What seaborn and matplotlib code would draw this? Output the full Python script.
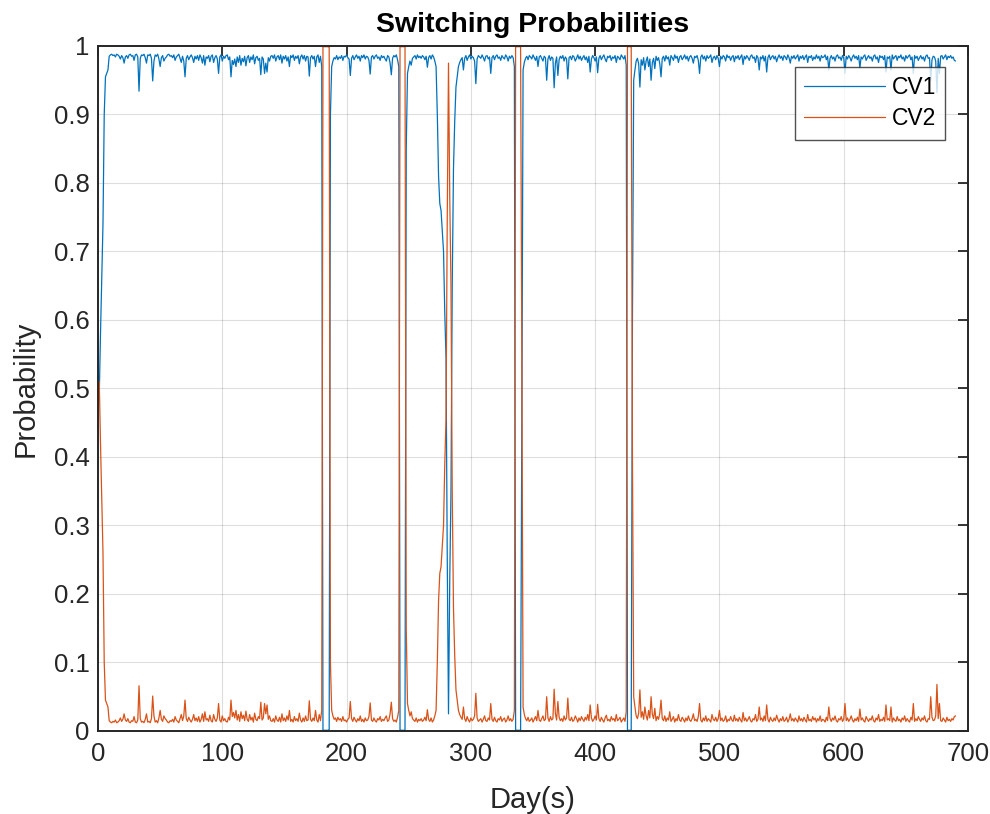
import numpy as np
import pandas as pd
import matplotlib
matplotlib.use('Agg')
import matplotlib.pyplot as plt
import seaborn as sns

# Switching probabilities, one value per day, in thousandths
# start-up (days 1-10)
cv1_start = [490, 580, 660, 740, 900, 955, 960, 965, 985, 987]
cv2_start = [510, 420, 340, 260, 100, 45, 40, 35, 15, 13]

# regime 1, days 11-180
cv1_a = [988, 986, 987, 984, 988, 987, 985, 981, 986, 983,
         975, 984, 986, 982, 987, 988, 985, 986, 979, 987,
         988, 984, 934, 982, 987, 986, 988, 983, 975, 987,
         986, 988, 982, 949, 978, 987, 985, 988, 981, 970,
         983, 986, 978, 982, 984, 987, 988, 985, 986, 983,
         987, 979, 984, 986, 988, 982, 976, 985, 978, 955,
         982, 986, 980, 984, 987, 983, 976, 985, 981, 986,
         979, 987, 983, 975, 986, 972, 984, 982, 986, 977,
         985, 987, 976, 983, 986, 981, 960, 984, 987, 978,
         985, 982, 986, 987, 980, 984, 955, 979, 973, 981,
         970, 984, 976, 986, 972, 982, 977, 985, 971, 983,
         986, 976, 984, 980, 987, 974, 983, 985, 979, 982,
         958, 984, 981, 960, 975, 962, 983, 978, 985, 986,
         982, 987, 978, 984, 986, 980, 987, 975, 985, 981,
         986, 978, 984, 970, 986, 983, 987, 979, 985, 982,
         986, 974, 984, 987, 981, 986, 978, 985, 984, 956,
         983, 986, 981, 985, 970, 984, 987, 976, 985, 970]
cv2_a = [12, 14, 13, 16, 12, 13, 15, 19, 14, 17,
         25, 16, 14, 18, 13, 12, 15, 14, 21, 13,
         12, 16, 66, 18, 13, 14, 12, 17, 25, 13,
         14, 12, 18, 51, 22, 13, 15, 12, 19, 30,
         17, 14, 22, 18, 16, 13, 12, 15, 14, 17,
         13, 21, 16, 14, 12, 18, 24, 15, 22, 45,
         18, 14, 20, 16, 13, 17, 24, 15, 19, 14,
         21, 13, 17, 25, 14, 28, 16, 18, 14, 23,
         15, 13, 24, 17, 14, 19, 40, 16, 13, 22,
         15, 18, 14, 13, 20, 16, 45, 21, 27, 19,
         30, 16, 24, 14, 28, 18, 23, 15, 29, 17,
         14, 24, 16, 20, 13, 26, 17, 15, 21, 18,
         42, 16, 19, 40, 25, 38, 17, 22, 15, 14,
         18, 13, 22, 16, 14, 20, 13, 25, 15, 19,
         14, 22, 16, 30, 14, 17, 13, 21, 15, 18,
         14, 26, 16, 13, 19, 14, 22, 15, 16, 44,
         17, 14, 19, 15, 30, 16, 13, 24, 15, 30]

# switch 1, days 181-188
cv1_sw1 = [1, 1, 1, 1, 1, 2, 900, 970]
cv2_sw1 = [999, 999, 999, 999, 999, 998, 100, 30]

# regime 1, days 189-242
cv1_b = [978, 983, 981, 986, 980, 984, 982, 986, 979, 985,
         984, 987, 983, 981, 957, 982, 986, 980, 984, 987,
         982, 985, 978, 986, 983, 987, 981, 985, 984, 979,
         959, 984, 986, 981, 985, 987, 982, 984, 979, 986,
         983, 985, 981, 978, 986, 984, 975, 958, 982, 986,
         984, 987, 980, 970]
cv2_b = [22, 17, 19, 14, 20, 16, 18, 14, 21, 15,
         16, 13, 17, 19, 43, 18, 14, 20, 16, 13,
         18, 15, 22, 14, 17, 13, 19, 15, 16, 21,
         41, 16, 14, 19, 15, 13, 18, 16, 21, 14,
         17, 15, 19, 22, 14, 16, 25, 42, 18, 14,
         16, 13, 20, 30]

# switch 2, days 243-249
cv1_sw2 = [1, 1, 1, 1, 1, 850, 960]
cv2_sw2 = [999, 999, 999, 999, 999, 150, 40]

# regime 1, days 250-272
cv1_c = [970, 978, 972, 982, 984, 986, 981, 987, 983, 985,
         982, 986, 984, 980, 985, 969, 983, 986, 981, 987,
         984, 978, 970]
cv2_c = [30, 22, 28, 18, 16, 14, 19, 13, 17, 15,
         18, 14, 16, 20, 15, 31, 17, 14, 19, 13,
         16, 22, 30]

# switch 3, days 273-288
cv1_sw3 = [900, 810, 770, 760, 730, 700, 610, 545, 250, 25, 220, 350, 650, 820, 890, 940]
cv2_sw3 = [100, 190, 230, 240, 270, 300, 390, 455, 750, 975, 780, 650, 350, 180, 110, 60]

# regime 1, days 289-335
cv1_d = [955, 970, 976, 980, 983, 965, 982, 986, 979, 984,
         987, 981, 985, 983, 978, 945, 981, 986, 984, 982,
         987, 983, 978, 985, 986, 981, 984, 960, 983, 986,
         980, 985, 987, 982, 984, 979, 986, 983, 981, 987,
         984, 978, 985, 982, 986, 983, 970]
cv2_d = [45, 30, 24, 20, 17, 35, 18, 14, 21, 16,
         13, 19, 15, 17, 22, 55, 19, 14, 16, 18,
         13, 17, 22, 15, 14, 19, 16, 40, 17, 14,
         20, 15, 13, 18, 16, 21, 14, 17, 19, 13,
         16, 22, 15, 18, 14, 17, 30]

# switch 4, days 336-342
cv1_sw4 = [1, 1, 1, 1, 1, 450, 965]
cv2_sw4 = [999, 999, 999, 999, 999, 550, 35]

# regime 1, days 343-425
cv1_e = [976, 982, 985, 980, 986, 984, 981, 987, 983, 979,
         985, 970, 984, 986, 982, 978, 985, 983, 950, 981,
         986, 979, 984, 982, 939, 975, 984, 957, 980, 985,
         982, 986, 978, 984, 981, 952, 983, 985, 980, 986,
         984, 978, 982, 987, 981, 985, 979, 983, 986, 980,
         984, 976, 985, 962, 981, 986, 983, 978, 984, 961,
         982, 986, 980, 984, 987, 981, 977, 985, 983, 986,
         979, 984, 982, 986, 976, 985, 983, 980, 987, 984,
         981, 986, 972]
cv2_e = [24, 18, 15, 20, 14, 16, 19, 13, 17, 21,
         15, 30, 16, 14, 18, 22, 15, 17, 50, 19,
         14, 21, 16, 18, 61, 25, 16, 43, 20, 15,
         18, 14, 22, 16, 19, 48, 17, 15, 20, 14,
         16, 22, 18, 13, 19, 15, 21, 17, 14, 20,
         16, 24, 15, 38, 19, 14, 17, 22, 16, 39,
         18, 14, 20, 16, 13, 19, 23, 15, 17, 14,
         21, 16, 18, 14, 24, 15, 17, 20, 13, 16,
         19, 14, 28]

# switch 5, days 426-431
cv1_sw5 = [1, 1, 1, 1, 600, 950]
cv2_sw5 = [999, 999, 999, 999, 400, 50]

# regime 1, days 432-690
cv1_f = [965, 978, 982, 974, 940, 980, 972, 983, 965, 978,
         984, 970, 981, 950, 976, 982, 967, 985, 979, 983,
         974, 955, 982, 985, 978, 986, 981, 984, 972, 986,
         983, 979, 987, 982, 985, 976, 984, 986, 980, 983,
         987, 981, 985, 978, 984, 986, 982, 975, 985, 983,
         986, 979, 960, 984, 987, 981, 985, 978, 986, 982,
         984, 987, 976, 983, 985, 980, 986, 982, 970, 985,
         981, 986, 984, 978, 987, 983, 985, 979, 984, 986,
         977, 985, 982, 986, 980, 984, 987, 973, 985, 981,
         986, 983, 979, 985, 987, 982, 984, 976, 986, 983,
         965, 984, 981, 986, 978, 985, 962, 983, 987, 980,
         984, 986, 981, 985, 977, 983, 987, 982, 985, 979,
         986, 984, 980, 987, 983, 975, 985, 982, 986, 981,
         984, 987, 978, 985, 982, 986, 980, 984, 987, 976,
         985, 983, 986, 979, 984, 981, 987, 982, 985, 978,
         986, 983, 984, 987, 980, 985, 965, 982, 986, 981,
         984, 978, 985, 987, 982, 984, 979, 986, 983, 960,
         985, 981, 986, 983, 978, 984, 987, 982, 985, 980,
         986, 968, 984, 981, 985, 987, 979, 983, 986, 982,
         984, 978, 985, 987, 981, 984, 976, 986, 983, 985,
         980, 986, 962, 984, 982, 985, 965, 987, 981, 984,
         986, 979, 985, 983, 987, 981, 984, 978, 986, 982,
         985, 987, 980, 984, 960, 986, 982, 985, 979, 983,
         986, 981, 984, 978, 985, 987, 982, 983, 950, 980,
         985, 984, 978, 932, 982, 960, 985, 986, 981, 984,
         987, 980, 985, 983, 986, 982, 984, 979, 978]
cv2_f = [35, 22, 18, 26, 60, 20, 28, 17, 35, 22,
         16, 30, 19, 50, 24, 18, 33, 15, 21, 17,
         26, 45, 18, 15, 22, 14, 19, 16, 28, 14,
         17, 21, 13, 18, 15, 24, 16, 14, 20, 17,
         13, 19, 15, 22, 16, 14, 18, 25, 15, 17,
         14, 21, 40, 16, 13, 19, 15, 22, 14, 18,
         16, 13, 24, 17, 15, 20, 14, 18, 30, 15,
         19, 14, 16, 22, 13, 17, 15, 21, 16, 14,
         23, 15, 18, 14, 20, 16, 13, 27, 15, 19,
         14, 17, 21, 15, 13, 18, 16, 24, 14, 17,
         35, 16, 19, 14, 22, 15, 38, 17, 13, 20,
         16, 14, 19, 15, 23, 17, 13, 18, 15, 21,
         14, 16, 20, 13, 17, 25, 15, 18, 14, 19,
         16, 13, 22, 15, 18, 14, 20, 16, 13, 24,
         15, 17, 14, 21, 16, 19, 13, 18, 15, 22,
         14, 17, 16, 13, 20, 15, 35, 18, 14, 19,
         16, 22, 15, 13, 18, 16, 21, 14, 17, 40,
         15, 19, 14, 17, 22, 16, 13, 18, 15, 20,
         14, 32, 16, 19, 15, 13, 21, 17, 14, 18,
         16, 22, 15, 13, 19, 16, 24, 14, 17, 15,
         20, 14, 38, 16, 18, 15, 35, 13, 19, 16,
         14, 21, 15, 17, 13, 19, 16, 22, 14, 18,
         15, 13, 20, 16, 40, 14, 18, 15, 21, 17,
         14, 19, 16, 22, 15, 13, 18, 17, 50, 20,
         15, 16, 22, 68, 18, 40, 15, 14, 19, 16,
         13, 20, 15, 17, 14, 18, 16, 21, 22]

series_names = ['CV1', 'CV2']
line_colors = ['#0072BD', '#D95319']

cv1 = np.array(cv1_start + cv1_a + cv1_sw1 + cv1_b + cv1_sw2 + cv1_c + cv1_sw3
               + cv1_d + cv1_sw4 + cv1_e + cv1_sw5 + cv1_f) / 1000.0
cv2 = np.array(cv2_start + cv2_a + cv2_sw1 + cv2_b + cv2_sw2 + cv2_c + cv2_sw3
               + cv2_d + cv2_sw4 + cv2_e + cv2_sw5 + cv2_f) / 1000.0
days = np.arange(1, len(cv1) + 1)

df = pd.DataFrame({'day': np.concatenate([days, days]),
                   'prob': np.concatenate([cv1, cv2]),
                   'series': [series_names[0]] * len(days) + [series_names[1]] * len(days)})

sns.set_theme(style="white")
plt.rcParams['font.family'] = ['Liberation Sans', 'DejaVu Sans']
dark = '#262626'

fig = plt.figure(figsize=(9.9, 8.14), dpi=100)
ax = fig.add_axes([0.099, 0.102, 0.8788, 0.8415])

sns.lineplot(data=df, x='day', y='prob', hue='series', hue_order=series_names,
             palette=line_colors, estimator=None, linewidth=0.9, ax=ax)

ax.set_xlim(0, 700)
ax.set_ylim(0, 1)
ax.set_xticks(np.arange(0, 701, 100))
ax.set_yticks(np.arange(0, 1.01, 0.1))
ax.set_yticklabels(['0'] + [f'{v:.1f}' for v in np.arange(0.1, 0.95, 0.1)] + ['1'])
ax.grid(True, color=dark, alpha=0.15, linewidth=0.8)
ax.tick_params(direction='in', top=True, right=True, length=7, width=1.3,
               colors=dark, labelsize=18.5)
ax.tick_params(axis='x', pad=8)
ax.tick_params(axis='y', pad=6)
for sp in ax.spines.values():
    sp.set_color(dark)
    sp.set_linewidth(1.4)
    sp.set_visible(True)

ax.set_title('Switching Probabilities', fontsize=20.5, fontweight='bold', color='black', pad=10)
ax.set_xlabel('Day(s)', fontsize=21, color=dark, labelpad=14)
ax.set_ylabel('Probability', fontsize=21, color=dark, labelpad=10)

leg = ax.legend(loc='upper right', bbox_to_anchor=(0.9736, 0.969), borderaxespad=0,
                fontsize=16.5, frameon=True, fancybox=False, handlelength=3.5,
                handletextpad=0.3, labelspacing=0.35, borderpad=0.4)
leg.get_frame().set_edgecolor(dark)
leg.get_frame().set_linewidth(1.0)
for t in leg.get_texts():
    t.set_color('black')

fig.savefig('out.png', dpi=100, facecolor='white')
